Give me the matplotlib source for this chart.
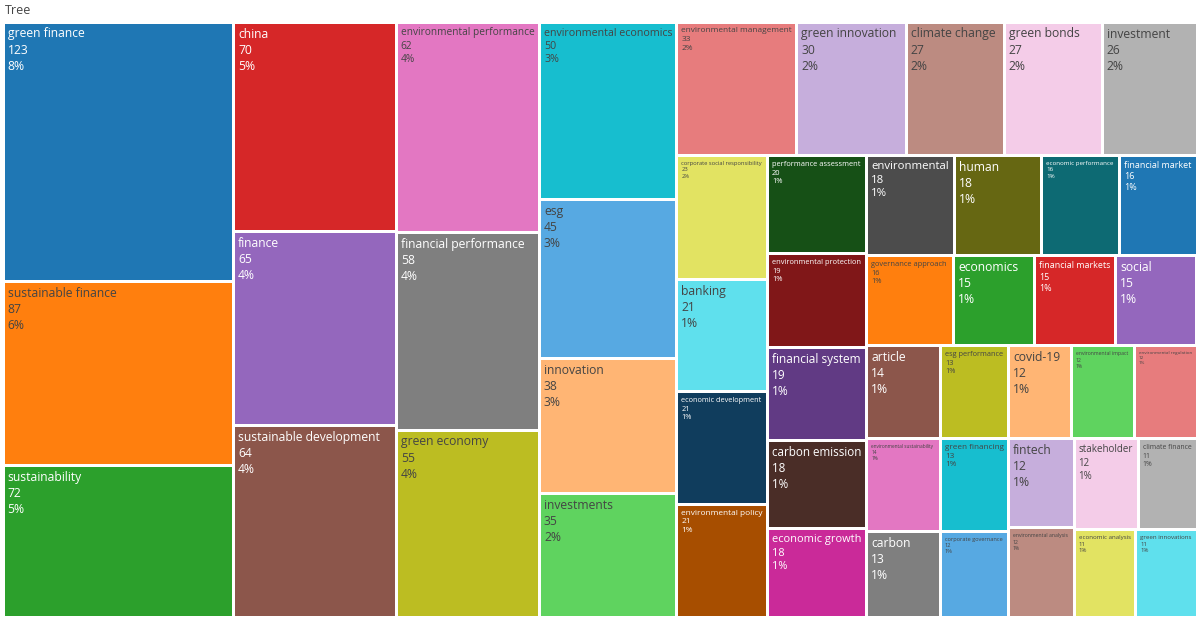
import colorsys
import matplotlib
matplotlib.use("Agg")
import matplotlib.pyplot as plt
import matplotlib.colors as mcolors
from matplotlib.patches import Rectangle

plt.rcParams['font.family'] = ['Open Sans', 'DejaVu Sans']

# keyword frequencies, largest first (ties kept in this order)
terms = [
    "green finance", "sustainable finance", "sustainability", "china", "finance",
    "sustainable development", "environmental performance", "financial performance",
    "green economy", "environmental economics", "esg", "innovation", "investments",
    "environmental management", "green innovation", "climate change", "green bonds",
    "investment", "corporate social responsibility", "banking", "economic development",
    "environmental policy", "performance assessment", "environmental protection",
    "financial system", "carbon emission", "economic growth", "environmental", "human",
    "economic performance", "financial market", "governance approach", "economics",
    "financial markets", "social", "article", "environmental sustainability", "carbon",
    "esg performance", "green financing", "corporate governance", "covid-19",
    "environmental impact", "environmental regulation", "fintech", "environmental analysis",
    "stakeholder", "climate finance", "economic analysis", "green innovations",
]
counts = [
    123, 87, 72, 70, 65, 64, 62, 58, 55, 50, 45, 38, 35,
    33, 30, 27, 27, 26, 23, 21, 21, 21, 20, 19, 19, 18, 18, 18, 18,
    16, 16, 16, 15, 15, 15, 14, 14, 13, 13, 13,
    12, 12, 12, 12, 12, 12, 12, 11, 11, 11,
]

palette = ['#1f77b4', '#ff7f0e', '#2ca02c', '#d62728', '#9467bd',
           '#8c564b', '#e377c2', '#7f7f7f', '#bcbd22', '#17becf']


def shade(hex_color, amount):
    r, g, b = mcolors.to_rgb(hex_color)
    h, l, s = colorsys.rgb_to_hls(r, g, b)
    l = min(1.0, max(0.0, l + amount))
    return colorsys.hls_to_rgb(h, l, s)


colorway = ([mcolors.to_rgb(c) for c in palette]
            + [shade(c, 0.2) for c in palette]
            + [shade(c, -0.2) for c in palette])


def text_color(rgb):
    r, g, b = [c * 255 for c in rgb]
    return 'white' if (r * 299 + g * 587 + b * 114) / 1000 < 128 else '#444444'


def squarify(values, x0, y0, x1, y1, stretch=1.0, ratio=1.0):
    rects = []
    value = float(sum(values))
    i0, n = 0, len(values)
    while i0 < n:
        dx = (x1 - x0) * stretch
        dy = y1 - y0
        sum_v = values[i0]
        min_v = max_v = sum_v
        alpha = max(dy / dx, dx / dy) / (value * ratio)
        beta = sum_v * sum_v * alpha
        min_ratio = max(max_v / beta, beta / min_v)
        i1 = i0 + 1
        while i1 < n:
            v = values[i1]
            s = sum_v + v
            lo, hi = min(min_v, v), max(max_v, v)
            beta = s * s * alpha
            new_ratio = max(hi / beta, beta / lo)
            if new_ratio > min_ratio:
                break
            sum_v, min_v, max_v, min_ratio = s, lo, hi, new_ratio
            i1 += 1
        row = values[i0:i1]
        if dx < dy:
            h = (y1 - y0) * sum_v / value
            x = x0
            for v in row:
                w = (x1 - x0) * v / sum_v
                rects.append((x, y0, w, h))
                x += w
            y0 += h
        else:
            w = (x1 - x0) * sum_v / value
            y = y0
            for v in row:
                h = (y1 - y0) * v / sum_v
                rects.append((x0, y, w, h))
                y += h
            x0 += w
        value -= sum_v
        i0 = i1
    return rects


W, H = 1194, 595
fig = plt.figure(figsize=(12, 6.2), dpi=100)
ax = fig.add_axes([3 / 1200, 3 / 620, W / 1200, H / 620])
ax.set_xlim(0, W)
ax.set_ylim(H, 0)
ax.axis('off')

total = sum(counts)
rects = squarify(counts, 0, 0, W, H, stretch=1.083)
pad = 1.5
base = 8.7
texts = []
for i, (term, cnt, (x, y, w, h)) in enumerate(zip(terms, counts, rects)):
    col = colorway[i % len(colorway)]
    ax.add_patch(Rectangle((x + pad, y + pad), w - 2 * pad, h - 2 * pad,
                           facecolor=col, edgecolor='none'))
    t = ax.text(x + pad + 3, y + pad + 4, f"{term}\n{cnt}\n{cnt / total * 100:.0f}%",
                ha='left', va='top', fontsize=base, color=text_color(col),
                linespacing=1.3)
    texts.append((t, w - 2 * pad - 7, h - 2 * pad - 6))

fig.canvas.draw()
renderer = fig.canvas.get_renderer()
for t, aw, ah in texts:
    bb = t.get_window_extent(renderer)
    scale = min(1.0, aw / bb.width, ah / bb.height)
    t.set_fontsize(base * scale)

fig.text(5 / 1200, 1 - 10 / 620, "Tree", ha='left', va='center', fontsize=9, color='#444444')

fig.savefig("out.png", dpi=100, facecolor='white')
